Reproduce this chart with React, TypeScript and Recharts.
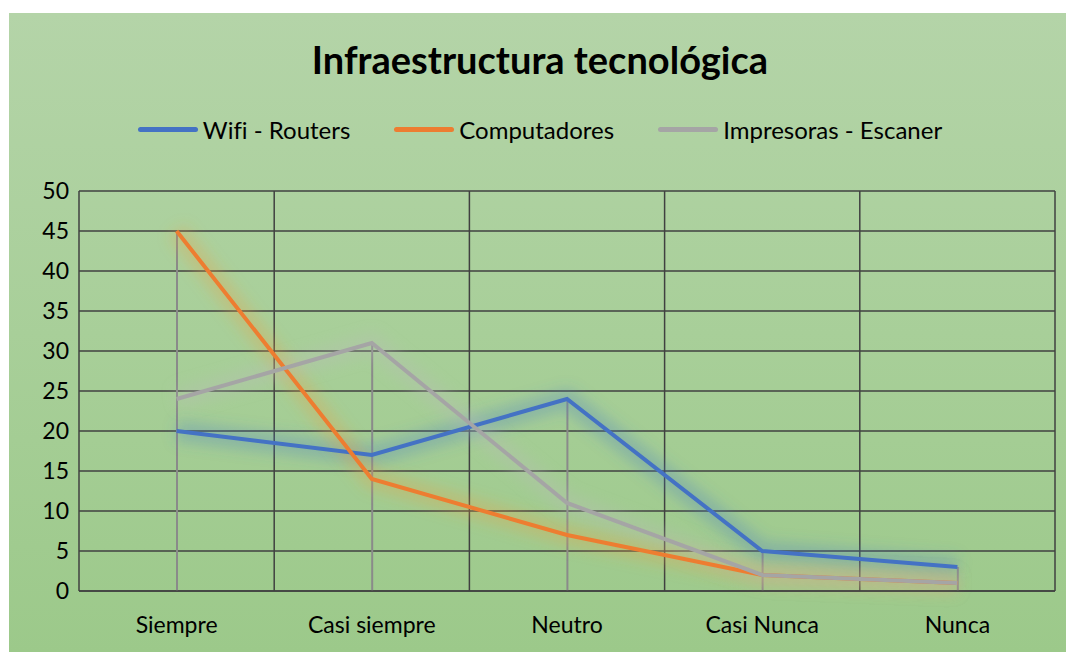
import {
  ComposedChart,
  Line,
  Bar,
  XAxis,
  YAxis,
  CartesianGrid,
} from "recharts";

const categories = ["Siempre", "Casi siempre", "Neutro", "Casi Nunca", "Nunca"];
const wifi = [20, 17, 24, 5, 3];
const computadores = [45, 14, 7, 2, 1];
const impresoras = [24, 31, 11, 2, 1];
const yTicks = [0, 5, 10, 15, 20, 25, 30, 35, 40, 45, 50];

const series = [
  { key: "wifi", name: "Wifi - Routers", color: "#4472C4", glow: "#4a7fc8" },
  { key: "computadores", name: "Computadores", color: "#ED7D31", glow: "#F0A040" },
  { key: "impresoras", name: "Impresoras - Escaner", color: "#A5A5A5", glow: "#B8B8B8" },
];

const data = categories.map((c, i) => ({
  name: c,
  wifi: wifi[i],
  computadores: computadores[i],
  impresoras: impresoras[i],
  drop: Math.max(wifi[i], computadores[i], impresoras[i]),
}));

const font = "Lato, 'Open Sans', sans-serif";

export default function App() {
  return (
    <div
      style={{
        position: "relative",
        width: 1062,
        height: 640,
        marginLeft: 1,
        marginTop: 5,
        background: "linear-gradient(180deg, #b4d4a8 0%, #a8cf99 50%, #9cc98a 100%)",
        fontFamily: font,
        fontVariantLigatures: "none",
      }}
    >
      <div
        style={{
          position: "absolute",
          top: 23,
          left: 0,
          width: "100%",
          textAlign: "center",
          fontSize: 38,
          fontWeight: 700,
          color: "#000",
        }}
      >
        Infraestructura tecnológica
      </div>
      <div
        style={{
          position: "absolute",
          top: 102,
          left: 0,
          width: "100%",
          display: "flex",
          justifyContent: "center",
          gap: 44,
          fontSize: 24,
          color: "#000",
        }}
      >
        {series.map((s) => (
          <div key={s.key} style={{ display: "flex", alignItems: "center" }}>
            <span
              style={{
                display: "inline-block",
                width: 60,
                height: 5,
                borderRadius: 3,
                background: s.color,
                marginRight: 5,
              }}
            />
            {s.name}
          </div>
        ))}
      </div>
      <ComposedChart
        width={1062}
        height={640}
        data={data}
        margin={{ top: 178, right: 16, bottom: 0, left: 0 }}
        style={{ position: "absolute", top: 0, left: 0 }}
      >
        <defs>
          <filter id="glow" x="-20%" y="-20%" width="140%" height="140%">
            <feGaussianBlur stdDeviation="7" />
          </filter>
        </defs>
        <CartesianGrid
          stroke="#404040"
          strokeWidth={1.5}
          verticalCoordinatesGenerator={({ offset }: any) =>
            Array.from(
              { length: categories.length + 1 },
              (_, i) => offset.left + (i * offset.width) / categories.length
            )
          }
        />
        <XAxis
          dataKey="name"
          tickLine={false}
          axisLine={{ stroke: "#404040", strokeWidth: 1.5 }}
          height={62}
          tick={{ fill: "#000", fontSize: 23, fontFamily: font }}
          tickMargin={20}
        />
        <YAxis
          domain={[0, 50]}
          ticks={yTicks}
          width={70}
          tickLine={false}
          axisLine={false}
          tick={{ fill: "#000", fontSize: 23, fontFamily: font }}
          tickMargin={4}
          interval={0}
        />
        <Bar dataKey="drop" barSize={2} fill="#8a8a8a" isAnimationActive={false} />
        {series.map((s) => (
          <Line
            key={s.key + "-glow"}
            dataKey={s.key}
            stroke={s.glow}
            strokeOpacity={0.3}
            strokeWidth={20}
            dot={false}
            activeDot={false}
            legendType="none"
            filter="url(#glow)"
            isAnimationActive={false}
          />
        ))}
        {series.map((s) => (
          <Line
            key={s.key}
            dataKey={s.key}
            name={s.name}
            stroke={s.color}
            strokeWidth={4}
            dot={false}
            activeDot={false}
            isAnimationActive={false}
          />
        ))}
      </ComposedChart>
    </div>
  );
}
